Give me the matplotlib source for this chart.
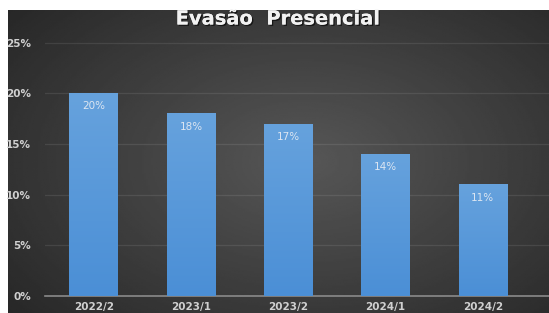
import numpy as np
import matplotlib.pyplot as plt
import matplotlib.patheffects as pe
from matplotlib.colors import LinearSegmentedColormap

semestres = ['2022/2', '2023/1', '2023/2', '2024/1', '2024/2']
evasao = [0.20, 0.18, 0.17, 0.14, 0.11]
rotulos = ['20%', '18%', '17%', '14%', '11%']
yticks = [0, 0.05, 0.10, 0.15, 0.20, 0.25]
ytick_labels = ['0%', '5%', '10%', '15%', '20%', '25%']

fig = plt.figure(figsize=(5.49, 3.13), dpi=100)
fig.patch.set_facecolor('white')

# fundo escuro com degradê radial
bg = fig.add_axes([8 / 549, 0, 1 - 8 / 549, 1 - 10 / 313])
yy, xx = np.mgrid[-1:1:200j, -1:1:300j]
r = np.sqrt((xx - 0.1) ** 2 + (yy * 0.9) ** 2)
bg.imshow(0.34 - 0.13 * r, cmap='gray', vmin=0, vmax=1, aspect='auto',
          extent=[0, 1, 0, 1])
bg.axis('off')

ax = fig.add_axes([45 / 549, 1 - 296 / 313, 1 - 45 / 549, (296 - 42) / 313])
ax.patch.set_alpha(0)

x = np.arange(len(semestres))
barras = ax.bar(x, evasao, width=0.5, color='#5597d8', zorder=3)

# degradê nas barras
grad = np.linspace(0, 1, 100).reshape(-1, 1)
cm = LinearSegmentedColormap.from_list('b', ['#4b8fd6', '#66a2dd'])
for b in barras:
    im = ax.imshow(grad, cmap=cm, aspect='auto', origin='lower', zorder=3,
                   extent=[b.get_x(), b.get_x() + b.get_width(), 0, b.get_height()])
    im.set_clip_path(b)

for xi, v, t in zip(x, evasao, rotulos):
    ax.text(xi, v - 0.013, t, ha='center', va='center', color='#dce6f2',
            fontsize=7.5, zorder=4)

ax.set_xlim(-0.5, -0.5 + 504 / 97.3)
ax.set_ylim(0, 0.2505)
ax.set_yticks(yticks)
ax.set_yticklabels(ytick_labels)
ax.set_xticks(x)
ax.set_xticklabels(semestres)
ax.tick_params(length=0, colors='#d0d0d0', labelsize=7.5)
ax.tick_params(axis='y', pad=10)
ax.tick_params(axis='x', pad=4)
for lbl in ax.get_yticklabels() + ax.get_xticklabels():
    lbl.set_fontweight('bold')
ax.grid(axis='y', color='white', alpha=0.09, linewidth=0.9, zorder=1)
for s in ['top', 'right', 'left']:
    ax.spines[s].set_visible(False)
ax.spines['bottom'].set_color('#8a8a8a')
ax.spines['bottom'].set_linewidth(1.2)

fig.text(278 / 549, 1 - 19 / 313, 'Evasão  Presencial', ha='center', va='center',
         color='#f2f2f2', fontsize=14, fontweight='bold',
         path_effects=[pe.withSimplePatchShadow(offset=(1, -1), shadow_rgbFace='black', alpha=0.6),
                       pe.Normal()])

fig.savefig('out.png', dpi=100, facecolor=fig.get_facecolor())
